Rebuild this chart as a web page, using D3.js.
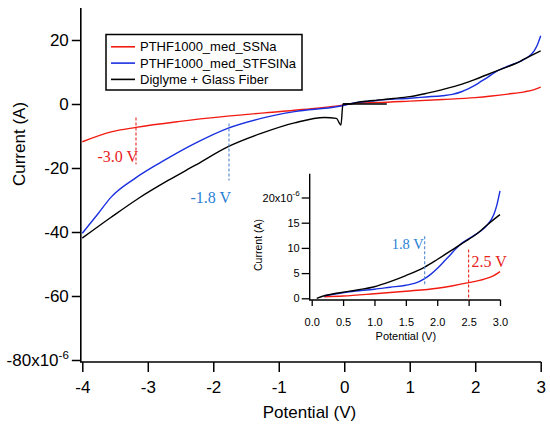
<!DOCTYPE html>
<html>
<head>
<meta charset="utf-8">
<script src="https://cdn.jsdelivr.net/npm/d3@7"></script>
<style>
  body { margin: 0; background: #fff; }
  svg { display: block; font-family: "Liberation Sans", Arial, sans-serif; }
  .serif { font-family: "Liberation Serif", "Times New Roman", serif; }
</style>
</head>
<body>
<script>
// Series names (legend order)
const seriesNames = ["PTHF1000_med_SSNa", "PTHF1000_med_STFSINa", "Diglyme + Glass Fiber"];

// Negative sweep, potential (V) and current (µA)
const redNegV = [-4, -3.56, -3.18, -2.54, -1.78, -1.01, -0.5, -0.1];
const redNegI = [-11.8, -8.7, -7.3, -5.5, -3.8, -2.4, -1.5, -0.6];
const blueNegV = [-4, -3.76, -3.56, -3.2, -2.79, -2.28, -1.78, -1.27, -0.76, -0.1];
const blueNegI = [-40.4, -34.3, -29.1, -23.3, -18.1, -12.3, -7.6, -4.5, -2.4, -0.8];
const blackNegV = [-4, -3.56, -3.15, -2.69, -2.28, -1.78, -1.27, -0.76, -0.3, -0.12, -0.05, -0.02];
const blackNegI = [-41.9, -35.4, -29.6, -23.9, -19.2, -13.4, -9.2, -5.9, -4.2, -4.5, -6.6, 0];
const blackStubV = [-0.02, 0.65];
const blackStubI = [0, 0];

// Positive sweep (shown in main plot and inset)
const redPosV = [0.2, 0.5, 1.0, 1.5, 2.0, 2.25, 2.5, 2.75, 2.9, 3.0];
const redPosI = [0.3, 0.45, 0.9, 1.4, 2.0, 2.5, 3.1, 3.8, 4.5, 5.3];
const bluePosV = [0.2, 0.4, 0.6, 1.0, 1.25, 1.5, 1.65, 1.8, 1.9, 2.0, 2.1, 2.2, 2.3, 2.4, 2.5, 2.6, 2.7, 2.8, 2.9, 2.95, 3.0];
const bluePosI = [0.5, 0.9, 1.3, 1.8, 2.2, 2.6, 3.0, 3.9, 4.8, 5.9, 7.2, 8.5, 9.9, 11.0, 11.8, 12.6, 13.4, 14.6, 16.6, 18.5, 21.3];
const blackPosV = [0.08, 0.2, 0.35, 0.5, 0.75, 1.0, 1.25, 1.5, 1.8, 2.0, 2.3, 2.4, 2.5, 2.6, 2.7, 2.8, 3.0];
const blackPosI = [0, 0.5, 0.9, 1.2, 1.7, 2.3, 3.3, 4.5, 6.2, 7.7, 10.1, 10.9, 11.7, 12.5, 13.5, 14.6, 16.6];

// Ticks
const mainXTicks = [-4, -3, -2, -1, 0, 1, 2, 3];
const mainYTicks = [-80, -60, -40, -20, 0, 20];
const insetXTicks = [0, 0.5, 1, 1.5, 2, 2.5, 3];
const insetYTicks = [0, 5, 10, 15, 20];

// Annotations: [potential, current from, current to, label]
const mainMarks = [[-3.18, -4.2, -18.8, "-3.0 V"], [-1.76, -6.1, -23.9, "-1.8 V"]];
const insetMarks = [[1.8, 12.3, 2.4, "1.8 V"], [2.5, 9.7, -0.4, "2.5 V"]];

const colors = ["#f21b12", "#1a30e0", "#000000"];
const markColors = ["#e8231c", "#2a7fd4"];

const W = 550, H = 428;
const svg = d3.select("body").append("svg").attr("width", W).attr("height", H);

function zip(v, i) { return v.map((d, k) => [d, i[k]]); }

// ---------- main plot ----------
const x = d3.scaleLinear().domain([-4, 3]).range([82.3, 540.7]);
const y = d3.scaleLinear().domain([-80, 30]).range([360, 8]);
const axX = x.range()[0] - 1.5, axY = y(-80) + 2;

const line = d3.line().x(d => x(d[0])).y(d => y(d[1])).curve(d3.curveMonotoneX);

const mainData = [
  zip(redNegV.concat(redPosV), redNegI.concat(redPosI)),
  zip(blueNegV.concat(bluePosV), blueNegI.concat(bluePosI)),
  zip(blackNegV.concat(blackPosV), blackNegI.concat(blackPosI))
];

svg.selectAll(".main-line")
  .data(mainData)
  .enter().append("path")
  .attr("class", "main-line")
  .attr("d", line)
  .attr("fill", "none")
  .attr("stroke", (d, i) => colors[i])
  .attr("stroke-width", 1.4);

svg.append("path")
  .attr("d", d3.line().x(d => x(d[0])).y(d => y(d[1]))(zip(blackStubV, blackStubI)))
  .attr("stroke", "#000").attr("stroke-width", 1.4);

// axes
const yAxis = svg.append("g")
  .attr("transform", "translate(" + axX + ",0)")
  .call(d3.axisLeft(y).tickValues(mainYTicks).tickSize(9).tickPadding(3).tickFormat(d => d));
const xAxis = svg.append("g")
  .attr("transform", "translate(0," + axY + ")")
  .call(d3.axisBottom(x).tickValues(mainXTicks).tickSize(10).tickPadding(9).tickFormat(d => d));

[xAxis, yAxis].forEach(g => {
  g.select(".domain").remove();
  g.selectAll("line").attr("stroke", "#000").attr("stroke-width", 1.5);
  g.selectAll("text").attr("font-size", 17).attr("fill", "#000").attr("font-family", "Liberation Sans, Arial, sans-serif");
});
svg.append("path")
  .attr("d", "M" + axX + "," + y.range()[1] + "V" + axY + "H" + (x.range()[1] + 0.5))
  .attr("fill", "none").attr("stroke", "#000").attr("stroke-width", 1.6);

yAxis.selectAll("text").filter(d => d === -80)
  .text("-80x10")
  .append("tspan").attr("font-size", 11.5).attr("dy", "-0.6em").text("-6");

svg.append("text")
  .attr("transform", "translate(25," + 144 + ") rotate(-90)")
  .attr("text-anchor", "middle").attr("font-size", 17)
  .text("Current (A)");
svg.append("text")
  .attr("x", (x(-4) + x(3)) / 2 - 2).attr("y", 418)
  .attr("text-anchor", "middle").attr("font-size", 17)
  .text("Potential (V)");

// annotations main
mainMarks.forEach((m, i) => {
  svg.append("line")
    .attr("x1", x(m[0])).attr("x2", x(m[0]))
    .attr("y1", y(m[1])).attr("y2", y(m[2]))
    .attr("stroke", i === 0 ? markColors[0] : "#4f86cc")
    .attr("stroke-width", 1.1)
    .attr("stroke-dasharray", "3,2");
});
svg.append("text").attr("class", "serif")
  .attr("x", x(mainMarks[0][0]) + 2).attr("y", 161.5)
  .attr("text-anchor", "end").attr("font-size", 16).attr("fill", markColors[0])
  .text(mainMarks[0][3]);
svg.append("text").attr("class", "serif")
  .attr("x", x(mainMarks[1][0]) + 2).attr("y", 203)
  .attr("text-anchor", "end").attr("font-size", 16).attr("fill", markColors[1])
  .text(mainMarks[1][3]);

// legend
const legend = svg.append("g");
legend.append("rect")
  .attr("x", 106).attr("y", 34.5).attr("width", 196).attr("height", 55.5)
  .attr("fill", "#fff").attr("stroke", "#000").attr("stroke-width", 1.5);
seriesNames.forEach((name, i) => {
  const cy = 46.8 + i * 16.3;
  legend.append("line")
    .attr("x1", 111).attr("x2", 135).attr("y1", cy).attr("y2", cy)
    .attr("stroke", colors[i]).attr("stroke-width", 1.6);
  legend.append("text")
    .attr("x", 140).attr("y", cy).attr("dy", "0.36em")
    .attr("font-size", 13).text(name);
});

// ---------- inset ----------
const ix = d3.scaleLinear().domain([0, 3]).range([311.7, 500]);
const iy = d3.scaleLinear().domain([0, 25]).range([298.3, 172.3]);
const iaxX = ix.range()[0] - 2, iaxY = iy(0) + 1.7;

const iline = d3.line().x(d => ix(d[0])).y(d => iy(d[1])).curve(d3.curveMonotoneX);
const insetData = [zip(redPosV, redPosI), zip(bluePosV, bluePosI), zip(blackPosV, blackPosI)];

svg.selectAll(".inset-line")
  .data(insetData)
  .enter().append("path")
  .attr("class", "inset-line")
  .attr("d", iline)
  .attr("fill", "none")
  .attr("stroke", (d, i) => colors[i])
  .attr("stroke-width", 1.4);

const iyAxis = svg.append("g")
  .attr("transform", "translate(" + iaxX + ",0)")
  .call(d3.axisLeft(iy).tickValues(insetYTicks).tickSize(8).tickPadding(2).tickFormat(d => d));
const ixAxis = svg.append("g")
  .attr("transform", "translate(0," + iaxY + ")")
  .call(d3.axisBottom(ix).tickValues(insetXTicks).tickSize(6).tickPadding(12).tickFormat(d3.format(".1f")));
[ixAxis, iyAxis].forEach(g => {
  g.select(".domain").remove();
  g.selectAll("line").attr("stroke", "#000").attr("stroke-width", 1.3);
  g.selectAll("text").attr("font-size", 11).attr("fill", "#000").attr("font-family", "Liberation Sans, Arial, sans-serif");
});
svg.append("path")
  .attr("d", "M" + iaxX + "," + (iy.range()[1] + 1.5) + "V" + iaxY + "H" + (ix.range()[1] + 0.5))
  .attr("fill", "none").attr("stroke", "#000").attr("stroke-width", 1.4);

iyAxis.selectAll("text").filter(d => d === 20)
  .text("20x10")
  .append("tspan").attr("font-size", 8).attr("dy", "-0.7em").text("-6");

svg.append("text")
  .attr("transform", "translate(262,245) rotate(-90)")
  .attr("text-anchor", "middle").attr("font-size", 10.5)
  .text("Current (A)");
svg.append("text")
  .attr("x", (ix(0) + ix(3)) / 2).attr("y", 340)
  .attr("text-anchor", "middle").attr("font-size", 11)
  .text("Potential (V)");

insetMarks.forEach((m, i) => {
  svg.append("line")
    .attr("x1", ix(m[0])).attr("x2", ix(m[0]))
    .attr("y1", iy(m[1])).attr("y2", iy(m[2]))
    .attr("stroke", i === 0 ? "#4f86cc" : markColors[0])
    .attr("stroke-width", 1.1)
    .attr("stroke-dasharray", "3,2");
});
svg.append("text").attr("class", "serif")
  .attr("x", ix(insetMarks[0][0]) - 1).attr("y", 249)
  .attr("text-anchor", "end").attr("font-size", 14.5).attr("fill", markColors[1])
  .text(insetMarks[0][3]);
svg.append("text").attr("class", "serif")
  .attr("x", ix(insetMarks[1][0]) + 3).attr("y", 267)
  .attr("font-size", 16).attr("fill", markColors[0])
  .text(insetMarks[1][3]);
</script>
</body>
</html>
